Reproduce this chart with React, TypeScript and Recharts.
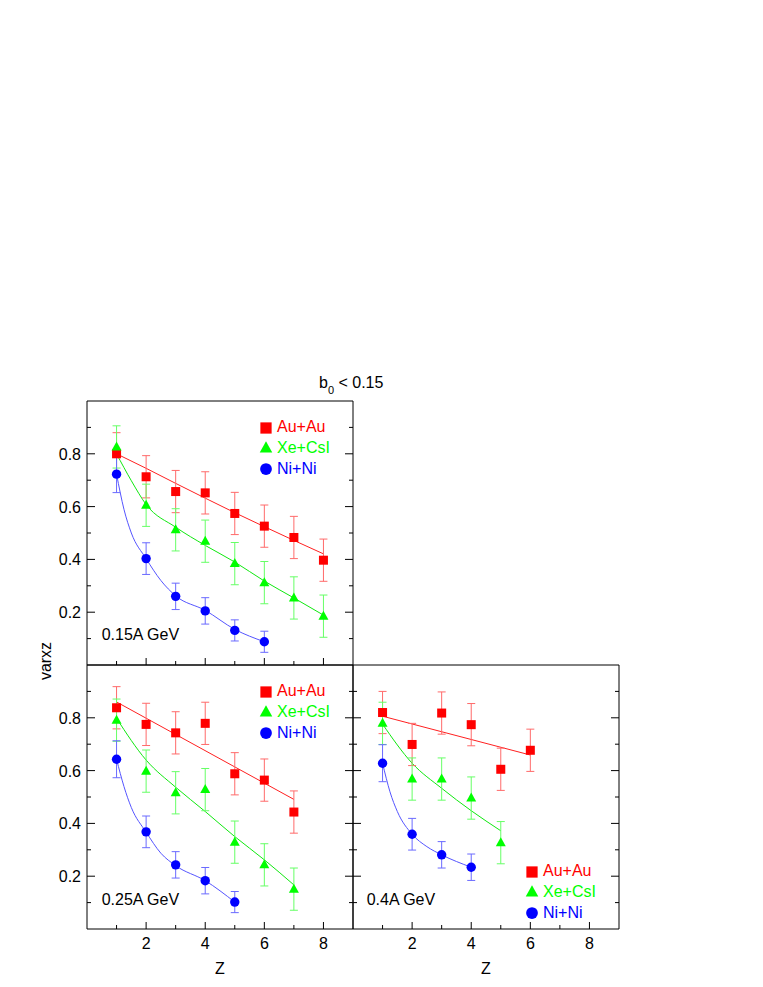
import React from 'react';
import { ComposedChart, Scatter, Line, XAxis, YAxis, ErrorBar } from 'recharts';

const FONT = '"Liberation Sans", Arial, Helvetica, sans-serif';

// axis ticks
const zTicks = [1, 2, 3, 4, 5, 6, 7, 8];
const yTicks = [0.1, 0.2, 0.3, 0.4, 0.5, 0.6, 0.7, 0.8, 0.9];

// 0.15A GeV
const au015Z = [1, 2, 3, 4, 5, 6, 7, 8];
const au015V = [0.8, 0.713, 0.657, 0.652, 0.574, 0.526, 0.483, 0.397];
const au015E = [0.08, 0.08, 0.08, 0.08, 0.08, 0.08, 0.08, 0.08];
const xe015Z = [1, 2, 3, 4, 5, 6, 7, 8];
const xe015V = [0.826, 0.605, 0.512, 0.469, 0.384, 0.312, 0.254, 0.185];
const xe015E = [0.08, 0.08, 0.08, 0.08, 0.08, 0.08, 0.08, 0.08];
const ni015Z = [1, 2, 3, 4, 5, 6];
const ni015V = [0.723, 0.403, 0.26, 0.205, 0.131, 0.088];
const ni015E = [0.07, 0.06, 0.05, 0.05, 0.04, 0.04];
// fit curves
const au015FitZ = [1, 2, 3, 4, 5, 6, 7, 8];
const au015FitV = [0.8, 0.745, 0.688, 0.632, 0.577, 0.524, 0.472, 0.421];
const xe015FitZ = [1, 1.5, 2, 3, 4, 5, 6, 7, 8];
const xe015FitV = [0.8, 0.698, 0.608, 0.522, 0.453, 0.39, 0.318, 0.254, 0.189];
const ni015FitZ = [1, 1.25, 1.5, 2, 2.5, 3, 4, 5, 6];
const ni015FitV = [0.723, 0.59, 0.5, 0.403, 0.32, 0.262, 0.207, 0.135, 0.088];

// 0.25A GeV
const au025Z = [1, 2, 3, 4, 5, 6, 7];
const au025V = [0.838, 0.775, 0.743, 0.779, 0.588, 0.564, 0.443];
const au025E = [0.08, 0.08, 0.08, 0.08, 0.08, 0.08, 0.08];
const xe025Z = [1, 2, 3, 4, 5, 6, 7];
const xe025V = [0.791, 0.598, 0.516, 0.528, 0.329, 0.243, 0.151];
const xe025E = [0.08, 0.08, 0.08, 0.08, 0.08, 0.08, 0.08];
const ni025Z = [1, 2, 3, 4, 5];
const ni025V = [0.643, 0.368, 0.243, 0.183, 0.102];
const ni025E = [0.07, 0.06, 0.05, 0.05, 0.04];
const au025FitZ = [1, 7];
const au025FitV = [0.86, 0.491];
const xe025FitZ = [1, 2, 3, 4, 5, 6, 7];
const xe025FitV = [0.798, 0.64, 0.537, 0.445, 0.35, 0.262, 0.167];
const ni025FitZ = [1, 1.25, 1.5, 2, 2.5, 3, 4, 5];
const ni025FitV = [0.643, 0.54, 0.46, 0.367, 0.287, 0.24, 0.183, 0.102];

// 0.4A GeV
const au04Z = [1, 2, 3, 4, 5, 6];
const au04V = [0.82, 0.699, 0.818, 0.774, 0.605, 0.677];
const au04E = [0.08, 0.08, 0.08, 0.08, 0.08, 0.08];
const xe04Z = [1, 2, 3, 4, 5];
const xe04V = [0.779, 0.568, 0.568, 0.496, 0.327];
const xe04E = [0.08, 0.08, 0.08, 0.08, 0.08];
const ni04Z = [1, 2, 3, 4];
const ni04V = [0.628, 0.359, 0.281, 0.234];
const ni04E = [0.07, 0.06, 0.05, 0.05];
const au04FitZ = [1, 6];
const au04FitV = [0.806, 0.659];
const xe04FitZ = [1, 2, 3, 4, 5];
const xe04FitV = [0.776, 0.628, 0.533, 0.448, 0.372];
const ni04FitZ = [1, 1.25, 1.5, 2, 2.5, 3, 4];
const ni04FitV = [0.628, 0.52, 0.445, 0.359, 0.312, 0.281, 0.234];

const STYLES = {
  au: { name: 'Au+Au', color: '#ff0000', err: '#ff6a6a', fit: '#ff2020', shape: 'square' },
  xe: { name: 'Xe+CsI', color: '#00ff00', err: '#66ff66', fit: '#10e810', shape: 'triangle' },
  ni: { name: 'Ni+Ni', color: '#0000ff', err: '#6a6aff', fit: '#5555ff', shape: 'circle' },
};
type Key = keyof typeof STYLES;

const pts = (z: number[], v: number[], e: number[]) => z.map((zz, i) => ({ z: zz, v: v[i], e: e[i] }));
const fit = (z: number[], v: number[]) => z.map((zz, i) => ({ z: zz, v: v[i] }));

function Marker({ shape, cx, cy, color, s = 1 }: any) {
  if (shape === 'square') return <rect x={cx - 4.5 * s} y={cy - 4.5 * s} width={9 * s} height={9 * s} fill={color} />;
  if (shape === 'triangle')
    return (
      <polygon
        points={`${cx},${cy - 5.5 * s} ${cx + 5 * s},${cy + 3.5 * s} ${cx - 5 * s},${cy + 3.5 * s}`}
        fill={color}
      />
    );
  return <circle cx={cx} cy={cy} r={4.7 * s} fill={color} />;
}

const tickText = { fontSize: 16, fontFamily: FONT, fill: '#000' };

const bottomTick = (labels: boolean) => (p: any) => {
  const major = p.payload.value % 2 === 0;
  return (
    <g>
      <line x1={p.x} x2={p.x} y1={p.y} y2={p.y - (major ? 7 : 4)} stroke="#000" />
      {labels && major && (
        <text x={p.x} y={p.y + 20} textAnchor="middle" {...tickText}>
          {p.payload.value}
        </text>
      )}
    </g>
  );
};
const topTick = (p: any) => {
  const major = p.payload.value % 2 === 0;
  return <line x1={p.x} x2={p.x} y1={p.y} y2={p.y + (major ? 7 : 4)} stroke="#000" />;
};
const leftTick = (labels: boolean) => (p: any) => {
  const major = Math.round(p.payload.value * 10) % 2 === 0;
  return (
    <g>
      <line x1={p.x} x2={p.x + (major ? 8 : 4)} y1={p.y} y2={p.y} stroke="#000" />
      {labels && major && (
        <text x={p.x - 6} y={p.y + 6} textAnchor="end" {...tickText}>
          {p.payload.value.toFixed(1)}
        </text>
      )}
    </g>
  );
};
const rightTick = (p: any) => {
  const major = Math.round(p.payload.value * 10) % 2 === 0;
  return <line x1={p.x} x2={p.x - (major ? 8 : 4)} y1={p.y} y2={p.y} stroke="#000" />;
};

interface Series {
  key: Key;
  points: { z: number; v: number; e: number }[];
  curve: { z: number; v: number }[];
}

function Panel({ left, top, width, height, leftW, bottomH, showY, showX, series }: any) {
  return (
    <div style={{ position: 'absolute', left, top }}>
      <ComposedChart width={width} height={height} margin={{ top: 0, right: 0, bottom: 0, left: 0 }}>
        <XAxis
          xAxisId="b"
          dataKey="z"
          type="number"
          domain={[0, 9]}
          ticks={zTicks}
          interval={0}
          allowDataOverflow
          height={bottomH}
          tickSize={0}
          tickMargin={0}
          tickLine={false}
          axisLine={{ stroke: '#000' }}
          tick={bottomTick(showX)}
          label={showX ? { value: 'Z', position: 'insideBottom', offset: 5, ...tickText } : undefined}
        />
        <XAxis
          xAxisId="t"
          orientation="top"
          type="number"
          domain={[0, 9]}
          ticks={zTicks}
          interval={0}
          allowDataOverflow
          height={10}
          tickSize={0}
          tickMargin={0}
          tickLine={false}
          axisLine={{ stroke: '#000' }}
          tick={topTick}
        />
        <YAxis
          yAxisId="l"
          type="number"
          domain={[0, 1]}
          ticks={yTicks}
          interval={0}
          allowDataOverflow
          width={leftW}
          tickSize={0}
          tickMargin={0}
          tickLine={false}
          axisLine={{ stroke: '#000' }}
          tick={leftTick(showY)}
        />
        <YAxis
          yAxisId="r"
          orientation="right"
          type="number"
          domain={[0, 1]}
          ticks={yTicks}
          interval={0}
          allowDataOverflow
          width={10}
          tickSize={0}
          tickMargin={0}
          tickLine={false}
          axisLine={{ stroke: '#000' }}
          tick={rightTick}
        />
        {series.map((s: Series) => (
          <Line
            key={'f' + s.key}
            xAxisId="b"
            yAxisId="l"
            data={s.curve}
            dataKey="v"
            type="monotone"
            stroke={STYLES[s.key].fit}
            strokeWidth={1}
            dot={false}
            activeDot={false}
            isAnimationActive={false}
          />
        ))}
        {series.map((s: Series) => (
          <Scatter
            key={'p' + s.key}
            xAxisId="b"
            yAxisId="l"
            data={s.points}
            dataKey="v"
            isAnimationActive={false}
            shape={(p: any) => <Marker shape={STYLES[s.key].shape} cx={p.cx} cy={p.cy} color={STYLES[s.key].color} />}
          >
            <ErrorBar dataKey="e" direction="y" width={4} stroke={STYLES[s.key].err} strokeWidth={1} isAnimationActive={false} />
          </Scatter>
        ))}
      </ComposedChart>
    </div>
  );
}

function LegendBox({ left, top }: { left: number; top: number }) {
  const keys: Key[] = ['au', 'xe', 'ni'];
  return (
    <div style={{ position: 'absolute', left, top, fontFamily: FONT, fontSize: 16 }}>
      {keys.map((k) => (
        <div key={k} style={{ display: 'flex', alignItems: 'center', height: 20.7, lineHeight: '20.7px' }}>
          <svg width={14} height={14} style={{ marginRight: 4 }}>
            <Marker shape={STYLES[k].shape} cx={7} cy={7} color={STYLES[k].color} s={1.25} />
          </svg>
          <span style={{ color: STYLES[k].color }}>{STYLES[k].name}</span>
        </div>
      ))}
    </div>
  );
}

const textStyle: React.CSSProperties = {
  position: 'absolute',
  fontFamily: FONT,
  fontSize: 16,
  lineHeight: '16px',
  whiteSpace: 'nowrap',
  color: '#000',
};

export default function App() {
  const s015: Series[] = [
    { key: 'au', points: pts(au015Z, au015V, au015E), curve: fit(au015FitZ, au015FitV) },
    { key: 'xe', points: pts(xe015Z, xe015V, xe015E), curve: fit(xe015FitZ, xe015FitV) },
    { key: 'ni', points: pts(ni015Z, ni015V, ni015E), curve: fit(ni015FitZ, ni015FitV) },
  ];
  const s025: Series[] = [
    { key: 'au', points: pts(au025Z, au025V, au025E), curve: fit(au025FitZ, au025FitV) },
    { key: 'xe', points: pts(xe025Z, xe025V, xe025E), curve: fit(xe025FitZ, xe025FitV) },
    { key: 'ni', points: pts(ni025Z, ni025V, ni025E), curve: fit(ni025FitZ, ni025FitV) },
  ];
  const s04: Series[] = [
    { key: 'au', points: pts(au04Z, au04V, au04E), curve: fit(au04FitZ, au04FitV) },
    { key: 'xe', points: pts(xe04Z, xe04V, xe04E), curve: fit(xe04FitZ, xe04FitV) },
    { key: 'ni', points: pts(ni04Z, ni04V, ni04E), curve: fit(ni04FitZ, ni04FitV) },
  ];

  return (
    <div style={{ position: 'absolute', left: 0, top: 0, width: 763, height: 987, background: '#fff' }}>
      <div style={{ ...textStyle, left: 319, top: 374.5 }}>
        b<span style={{ fontSize: 11, position: 'relative', top: 6 }}>0</span> &lt; 0.15
      </div>
      <div
        style={{
          ...textStyle,
          left: 45.5,
          top: 661,
          transform: 'translate(-50%, -50%) rotate(-90deg)',
        }}
      >
        varxz
      </div>

      <Panel left={0} top={391} width={363} height={284} leftW={87} bottomH={10} showY showX={false} series={s015} />
      <Panel left={0} top={655} width={363} height={324} leftW={87} bottomH={50} showY showX series={s025} />
      <Panel left={343} top={655} width={286} height={324} leftW={10} bottomH={50} showY={false} showX series={s04} />

      <LegendBox left={259} top={417.2} />
      <LegendBox left={259} top={681.3} />
      <LegendBox left={525} top={861.3} />

      <div style={{ ...textStyle, left: 101.7, top: 626.5 }}>0.15A GeV</div>
      <div style={{ ...textStyle, left: 101.7, top: 891.5 }}>0.25A GeV</div>
      <div style={{ ...textStyle, left: 366.7, top: 891.5 }}>0.4A GeV</div>
    </div>
  );
}
